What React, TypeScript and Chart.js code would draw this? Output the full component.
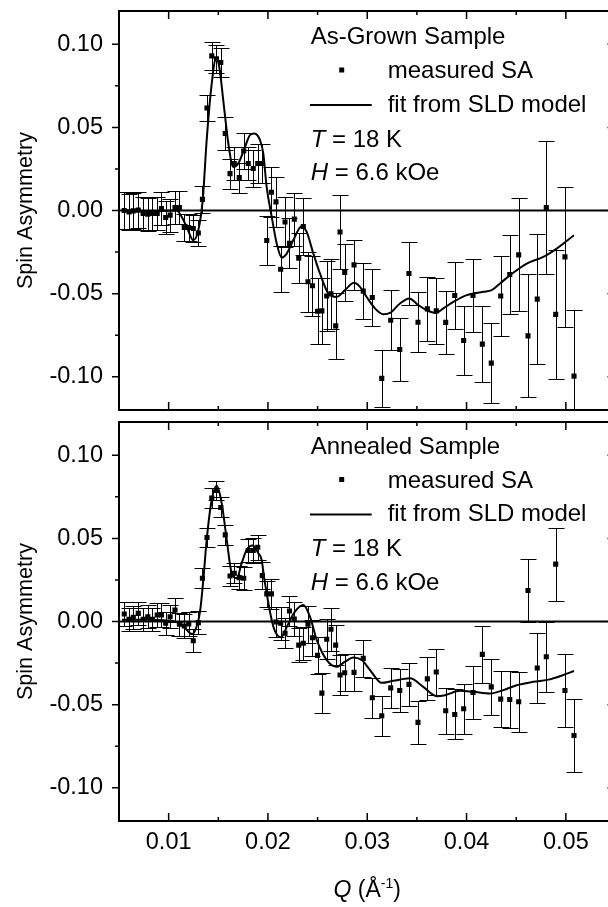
import React, { useEffect, useRef } from "react";
import { Chart, registerables } from "chart.js";

Chart.register(...registerables);

// ---------- data ----------
const Q = [0.00553, 0.00601, 0.00644, 0.00694, 0.00743, 0.0079, 0.00837, 0.00885, 0.00927, 0.0097,
  0.01015, 0.01064, 0.01108, 0.01157, 0.01202, 0.01248, 0.01299, 0.0134, 0.01386, 0.01434,
  0.01481, 0.01525, 0.0157, 0.01618, 0.01661, 0.01711, 0.01756, 0.01802, 0.01852, 0.01897,
  0.01943, 0.01988, 0.02035, 0.02081, 0.02128, 0.02172, 0.02217, 0.02265, 0.0231, 0.02356,
  0.02403, 0.02448, 0.02499, 0.02543, 0.02592, 0.02635, 0.02682, 0.02726, 0.02773, 0.02867,
  0.0296, 0.03051, 0.03146, 0.03236, 0.03327, 0.0342, 0.03511, 0.03605, 0.03695, 0.0379,
  0.03881, 0.03971, 0.04065, 0.04159, 0.04249, 0.04344, 0.04435, 0.04525, 0.04619, 0.04712,
  0.04803, 0.04898, 0.04991, 0.05082];

const SA_GROWN = [0.0, -0.0008, -0.0002, 0.0002, -0.0018, -0.0022, -0.0018, -0.0018, 0.0012, -0.0042,
  -0.0028, 0.0018, 0.0018, -0.0102, -0.0102, -0.0108, -0.0135, 0.0067, 0.0617, 0.093,
  0.0912, 0.089, 0.0463, 0.0222, 0.0283, 0.0198, 0.0358, 0.0283, 0.0253, 0.0283,
  0.0283, -0.018, 0.011, 0.0052, -0.0353, -0.0069, -0.0198, -0.0052, -0.0287, -0.0096,
  -0.0429, -0.0453, -0.0606, -0.0604, -0.0514, -0.0501, -0.0694, -0.0129, -0.0373, -0.0327,
  -0.0485, -0.0523, -0.101, -0.066, -0.0836, -0.0379, -0.0672, -0.0592, -0.0604, -0.0673,
  -0.0511, -0.0782, -0.0511, -0.0804, -0.0918, -0.0514, -0.0385, -0.0267, -0.0754, -0.0533,
  0.0018, -0.0625, -0.0279, -0.0996];

const ERR_GROWN = [0.011, 0.011, 0.011, 0.011, 0.01, 0.01, 0.01, 0.01, 0.01, 0.01,
  0.01, 0.01, 0.01, 0.008, 0.008, 0.008, 0.008, 0.008, 0.008, 0.0085,
  0.0085, 0.009, 0.01, 0.009, 0.01, 0.009, 0.011, 0.01, 0.011, 0.012,
  0.012, 0.0145, 0.015, 0.015, 0.014, 0.015, 0.015, 0.016, 0.015, 0.017,
  0.018, 0.018, 0.02, 0.02, 0.021, 0.021, 0.02, 0.022, 0.017, 0.015,
  0.017, 0.017, 0.017, 0.018, 0.019, 0.019, 0.018, 0.019, 0.02, 0.019,
  0.02, 0.021, 0.022, 0.023, 0.024, 0.024, 0.024, 0.034, 0.037, 0.039,
  0.04, 0.039, 0.042, 0.04];

const FIT_GROWN_Q = [0.0053, 0.008, 0.01081, 0.01131, 0.01182, 0.01248, 0.01299, 0.01343, 0.01383, 0.01434,
  0.01477, 0.0151, 0.0155, 0.01601, 0.01651, 0.01701, 0.01769, 0.01819, 0.01863, 0.0192,
  0.01953, 0.01987, 0.02038, 0.02088, 0.02138, 0.02189, 0.02255, 0.0234, 0.0239, 0.02457,
  0.02524, 0.02608, 0.02692, 0.02776, 0.02867, 0.02927, 0.02994, 0.03078, 0.03162, 0.03229,
  0.0333, 0.03423, 0.03514, 0.03599, 0.03692, 0.03766, 0.03867, 0.04002, 0.04169, 0.04253,
  0.04337, 0.04438, 0.04606, 0.04773, 0.04908, 0.05082];

const FIT_GROWN = [0.0, -0.0005, 0.0, -0.0038, -0.0099, -0.0179, -0.0118, 0.0062, 0.0423, 0.0764,
  0.0914, 0.0863, 0.0663, 0.0403, 0.0262, 0.0283, 0.0382, 0.0453, 0.0463, 0.0423,
  0.0343, 0.0142, -0.0038, -0.0198, -0.0283, -0.0259, -0.0179, -0.0094, -0.0129, -0.0259,
  -0.0379, -0.0499, -0.052, -0.0479, -0.0435, -0.0459, -0.052, -0.0589, -0.0624, -0.0616,
  -0.0559, -0.0529, -0.0569, -0.06, -0.0616, -0.0589, -0.055, -0.0509, -0.0489, -0.0479,
  -0.0439, -0.0389, -0.0319, -0.0279, -0.0229, -0.0149];

const SA_ANNEALED = [0.0045, 0.0013, 0.0025, 0.0049, 0.0013, 0.0029, 0.0013, 0.0039, 0.0039, -0.0011,
  0.0029, 0.0069, -0.0017, -0.0027, -0.0015, -0.0116, -0.0007, 0.026, 0.0505, 0.0742,
  0.0788, 0.0686, 0.0521, 0.0274, 0.029, 0.0264, 0.026, 0.0427, 0.0427, 0.0447,
  0.0276, 0.0166, 0.0166, -0.0003, -0.0011, -0.0071, 0.0063, 0.0015, -0.0142, -0.0131,
  -0.0017, -0.0098, -0.0204, -0.0431, -0.0107, -0.0047, -0.0142, -0.0322, -0.0308, -0.0306,
  -0.0222, -0.0459, -0.0567, -0.0399, -0.0415, -0.0378, -0.0607, -0.0345, -0.0304, -0.0537,
  -0.0559, -0.0525, -0.0427, -0.0198, -0.0393, -0.0467, -0.0469, -0.0483, 0.0186, -0.028,
  -0.0212, 0.0345, -0.0415, -0.0686];

const ERR_ANNEALED = [0.007, 0.007, 0.007, 0.007, 0.007, 0.007, 0.007, 0.007, 0.007, 0.007,
  0.007, 0.007, 0.007, 0.007, 0.007, 0.007, 0.007, 0.006, 0.0055, 0.006,
  0.0055, 0.006, 0.006, 0.006, 0.006, 0.007, 0.007, 0.007, 0.0075, 0.0075,
  0.008, 0.008, 0.009, 0.009, 0.01, 0.009, 0.009, 0.01, 0.01, 0.01,
  0.011, 0.011, 0.011, 0.012, 0.012, 0.013, 0.012, 0.012, 0.011, 0.011,
  0.011, 0.012, 0.012, 0.012, 0.013, 0.013, 0.013, 0.013, 0.014, 0.014,
  0.015, 0.015, 0.016, 0.017, 0.017, 0.017, 0.017, 0.018, 0.019, 0.021,
  0.021, 0.022, 0.022, 0.022];

const FIT_ANNEALED_Q = [0.0053, 0.008, 0.01064, 0.01148, 0.01238, 0.01282, 0.01316, 0.01349, 0.01383, 0.01434,
  0.01484, 0.01534, 0.01585, 0.01635, 0.01685, 0.01736, 0.01786, 0.01846, 0.01903, 0.01937,
  0.0196, 0.0199, 0.0202, 0.02054, 0.02091, 0.02126, 0.02162, 0.02192, 0.02272, 0.02356,
  0.02423, 0.02491, 0.02592, 0.02692, 0.02776, 0.0286, 0.02944, 0.03028, 0.03146, 0.03262,
  0.0343, 0.03564, 0.03699, 0.03783, 0.03934, 0.04068, 0.04236, 0.0437, 0.04505, 0.04672,
  0.0484, 0.04974, 0.05082];

const FIT_ANNEALED = [0.001, 0.001, 0.0, -0.003, -0.0075, -0.003, 0.0059, 0.025, 0.0491, 0.0732,
  0.0816, 0.0712, 0.0491, 0.029, 0.026, 0.0351, 0.0431, 0.0457, 0.0411, 0.037,
  0.027, 0.016, 0.006, -0.003, -0.008, -0.0095, -0.007, -0.003, 0.0059, 0.0099,
  0.0029, -0.0111, -0.0232, -0.0272, -0.0242, -0.0216, -0.0232, -0.0292, -0.0369, -0.0357,
  -0.0342, -0.0393, -0.0449, -0.0443, -0.0417, -0.0423, -0.0433, -0.0413, -0.0383, -0.0363,
  -0.0348, -0.0322, -0.0298];

const X_MIN = 0.005;
const X_MAX = 0.055;
const Y_MIN = -0.12;
const Y_MAX = 0.12;
const X_MAJOR = [0.01, 0.02, 0.03, 0.04, 0.05];
const X_MINOR = [0.015, 0.025, 0.035, 0.045];
const Y_MAJOR = [-0.1, -0.05, 0, 0.05, 0.1];
const Y_MINOR = [-0.075, -0.025, 0.025, 0.075];

const PANEL_TITLES = ["As-Grown Sample", "Annealed Sample"];
const LEGEND_POINTS = "measured SA";
const LEGEND_FIT = "fit from SLD model";
const Y_TITLE = "Spin Asymmetry";

const FONT = '"Liberation Sans", Arial, sans-serif';
const CANVAS_W = 630;

type Panel = {
  values: number[];
  errors: number[];
  fitQ: number[];
  fitV: number[];
  title: string;
  legendDy: number;
  showX: boolean;
  padTop: number;
  padBottom: number;
  xHeight: number;
};

function zip(xs: number[], ys: number[]) {
  const n = Math.min(xs.length, ys.length);
  const out: { x: number; y: number }[] = [];
  for (let i = 0; i < n; i++) out.push({ x: xs[i], y: ys[i] });
  return out;
}

function makePlugins(p: Panel) {
  const errorBars = {
    id: "errorBars",
    beforeDatasetsDraw(chart: any) {
      const { ctx, chartArea: a, scales } = chart;
      const xs = scales.x;
      const ys = scales.y;
      ctx.save();
      ctx.beginPath();
      ctx.rect(a.left, a.top, a.right - a.left, a.bottom - a.top);
      ctx.clip();
      ctx.strokeStyle = "#000";
      ctx.lineWidth = 1;
      const n = Math.min(Q.length, p.values.length, p.errors.length);
      for (let i = 0; i < n; i++) {
        const px = Math.round(xs.getPixelForValue(Q[i])) + 0.5;
        const yt = Math.round(ys.getPixelForValue(p.values[i] + p.errors[i])) + 0.5;
        const yb = Math.round(ys.getPixelForValue(p.values[i] - p.errors[i])) + 0.5;
        ctx.beginPath();
        ctx.moveTo(px, yt);
        ctx.lineTo(px, yb);
        ctx.moveTo(px - 8, yt);
        ctx.lineTo(px + 8, yt);
        ctx.moveTo(px - 8, yb);
        ctx.lineTo(px + 8, yb);
        ctx.stroke();
      }
      ctx.restore();
    },
  };

  const decor = {
    id: "decor",
    afterDraw(chart: any) {
      const { ctx, chartArea: a, scales } = chart;
      const xs = scales.x;
      const ys = scales.y;
      ctx.save();
      ctx.strokeStyle = "#000";
      ctx.fillStyle = "#000";
      // ticks
      ctx.lineWidth = 1.5;
      const xt: [number[], number][] = [[X_MAJOR, 8], [X_MINOR, 4]];
      for (const [vals, len] of xt) {
        for (const v of vals) {
          const px = xs.getPixelForValue(v);
          ctx.beginPath();
          ctx.moveTo(px, a.bottom);
          ctx.lineTo(px, a.bottom - len);
          ctx.moveTo(px, a.top);
          ctx.lineTo(px, a.top + len);
          ctx.stroke();
        }
      }
      const yt: [number[], number][] = [[Y_MAJOR, 7], [Y_MINOR, 4]];
      for (const [vals, len] of yt) {
        for (const v of vals) {
          const py = ys.getPixelForValue(v);
          ctx.beginPath();
          ctx.moveTo(a.left, py);
          ctx.lineTo(a.left - len, py);
          ctx.moveTo(a.right, py);
          ctx.lineTo(a.right - len - 1, py);
          ctx.stroke();
        }
      }
      // frame
      ctx.lineWidth = 2;
      ctx.strokeRect(a.left, a.top, a.right - a.left, a.bottom - a.top);

      // y title
      ctx.save();
      ctx.font = `21.6px ${FONT}`;
      ctx.textAlign = "center";
      ctx.textBaseline = "alphabetic";
      ctx.translate(32, (a.top + a.bottom) / 2);
      ctx.rotate(-Math.PI / 2);
      ctx.fillText(Y_TITLE, 0, 0);
      ctx.restore();

      // legend / annotation block
      const lx = a.left + 191.7;
      const t = a.top + p.legendDy;
      ctx.textAlign = "left";
      ctx.textBaseline = "alphabetic";
      ctx.font = `24px ${FONT}`;
      ctx.fillText(p.title, lx, t + 33);
      ctx.fillRect(a.left + 222.7 - 2.5, t + 59 - 2.5, 5, 5);
      ctx.fillText(LEGEND_POINTS, a.left + 268.7, t + 67.3);
      ctx.lineWidth = 2;
      ctx.beginPath();
      ctx.moveTo(a.left + 191, t + 94);
      ctx.lineTo(a.left + 252.7, t + 94);
      ctx.stroke();
      ctx.fillText(LEGEND_FIT, a.left + 268.7, t + 100.7);
      const italicThen = (it: string, rest: string, y: number) => {
        ctx.font = `italic 24px ${FONT}`;
        ctx.fillText(it, lx, y);
        const w = ctx.measureText(it).width;
        ctx.font = `24px ${FONT}`;
        ctx.fillText(rest, lx + w, y);
      };
      italicThen("T", " = 18 K", t + 135.7);
      italicThen("H", " = 6.6 kOe", t + 169);

      // x title
      if (p.showX) {
        const base = a.bottom + 75.7;
        const parts: [string, string, number][] = [
          ["Q", `italic 23px ${FONT}`, 0],
          [" (Å", `23px ${FONT}`, 0],
          ["-1", `14px ${FONT}`, -9],
          [")", `23px ${FONT}`, 0],
        ];
        let total = 0;
        for (const [s, f] of parts) {
          ctx.font = f;
          total += ctx.measureText(s).width;
        }
        let x = (a.left + a.right) / 2 - total / 2;
        for (const [s, f, dy] of parts) {
          ctx.font = f;
          ctx.fillText(s, x, base + dy);
          x += ctx.measureText(s).width;
        }
      }
      ctx.restore();
    },
  };
  return [errorBars, decor];
}

function makeConfig(p: Panel): any {
  return {
    type: "scatter",
    data: {
      datasets: [
        {
          type: "scatter",
          data: zip(Q, p.values),
          pointStyle: "rect",
          pointRadius: 3.6,
          pointBorderWidth: 0,
          backgroundColor: "#000",
          borderColor: "#000",
        },
        {
          type: "line",
          data: zip(p.fitQ, p.fitV),
          borderColor: "#000",
          borderWidth: 2,
          pointRadius: 0,
          fill: false,
          cubicInterpolationMode: "monotone",
        },
        {
          type: "line",
          data: [
            { x: X_MIN, y: 0 },
            { x: X_MAX, y: 0 },
          ],
          borderColor: "#000",
          borderWidth: 2,
          pointRadius: 0,
          fill: false,
        },
      ],
    },
    options: {
      animation: false,
      responsive: false,
      events: [],
      layout: {
        autoPadding: false,
        padding: { left: 0, right: CANVAS_W - 615.5, top: p.padTop, bottom: p.padBottom },
      },
      plugins: {
        legend: { display: false },
        tooltip: { enabled: false },
        title: { display: false },
      },
      scales: {
        x: {
          type: "linear",
          min: X_MIN,
          max: X_MAX,
          grid: { display: false, drawTicks: false },
          border: { display: false },
          afterBuildTicks: (s: any) => {
            s.ticks = X_MAJOR.map((v) => ({ value: v }));
          },
          afterFit: (s: any) => {
            s.height = p.xHeight;
            s.paddingLeft = 0;
            s.paddingRight = 0;
          },
          ticks: {
            display: p.showX,
            padding: 7,
            autoSkip: false,
            maxRotation: 0,
            color: "#000",
            font: { family: FONT, size: 23.5 },
            callback: (v: any) => Number(v).toFixed(2),
          },
        },
        y: {
          type: "linear",
          min: Y_MIN,
          max: Y_MAX,
          grid: { display: false, drawTicks: false },
          border: { display: false },
          afterBuildTicks: (s: any) => {
            s.ticks = Y_MAJOR.map((v) => ({ value: v }));
          },
          afterFit: (s: any) => {
            s.width = 119;
            s.paddingTop = 0;
            s.paddingBottom = 0;
          },
          ticks: {
            padding: 16,
            color: "#000",
            font: { family: FONT, size: 23.5 },
            callback: (v: any) => Number(v).toFixed(2),
          },
        },
      },
    },
    plugins: makePlugins(p),
  };
}

const TOP_PANEL: Panel = {
  values: SA_GROWN,
  errors: ERR_GROWN,
  fitQ: FIT_GROWN_Q,
  fitV: FIT_GROWN,
  title: PANEL_TITLES[0],
  legendDy: 0,
  showX: false,
  padTop: 11,
  padBottom: 6,
  xHeight: 0,
};

const BOTTOM_PANEL: Panel = {
  values: SA_ANNEALED,
  errors: ERR_ANNEALED,
  fitQ: FIT_ANNEALED_Q,
  fitV: FIT_ANNEALED,
  title: PANEL_TITLES[1],
  legendDy: -1.5,
  showX: true,
  padTop: 6,
  padBottom: 0,
  xHeight: 86,
};

export default function App() {
  const topRef = useRef<HTMLCanvasElement | null>(null);
  const botRef = useRef<HTMLCanvasElement | null>(null);

  useEffect(() => {
    const charts: Chart[] = [];
    if (topRef.current) charts.push(new Chart(topRef.current, makeConfig(TOP_PANEL)));
    if (botRef.current) charts.push(new Chart(botRef.current, makeConfig(BOTTOM_PANEL)));
    return () => charts.forEach((c) => c.destroy());
  }, []);

  return (
    <div
      style={{
        position: "absolute",
        left: 0,
        top: 0,
        width: 608,
        height: 907,
        overflow: "hidden",
        background: "#fff",
      }}
    >
      <canvas
        ref={topRef}
        width={CANVAS_W}
        height={416}
        style={{ position: "absolute", left: 0, top: 0, width: CANVAS_W, height: 416 }}
      />
      <canvas
        ref={botRef}
        width={CANVAS_W}
        height={491}
        style={{ position: "absolute", left: 0, top: 416, width: CANVAS_W, height: 491 }}
      />
    </div>
  );
}
